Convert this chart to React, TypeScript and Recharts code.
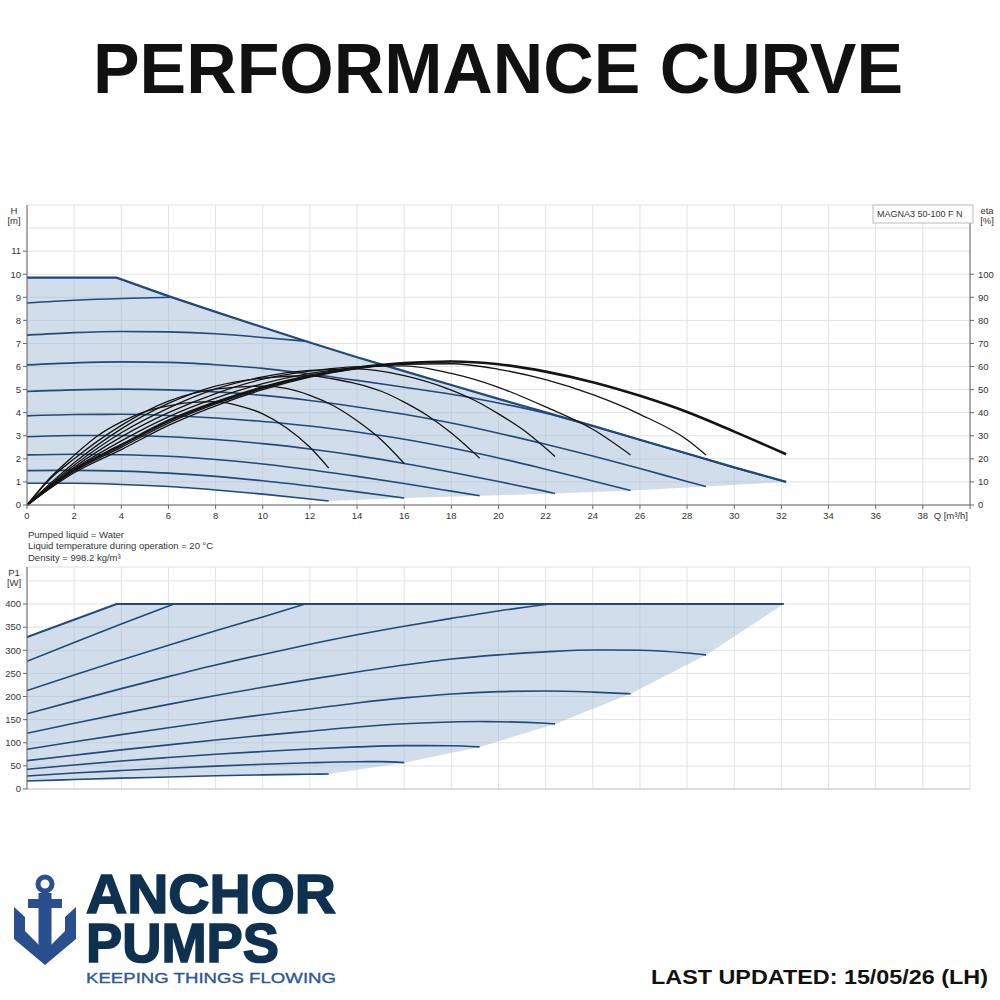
import React from "react";
import { ComposedChart, Line, Area, XAxis, YAxis, CartesianGrid } from "recharts";

type Pt = [number, number];

const FONT = "'Liberation Sans', Arial, Helvetica, sans-serif";
const BLUE = "#1f4a7c";
const SHADE = "#a3bcd6";
const INK = "#141414";
const GRID = "#e2e2e2";
const AXIS = "#666";

// axis ticks
const qTicks = [0, 2, 4, 6, 8, 10, 12, 14, 16, 18, 20, 22, 24, 26, 28, 30, 32, 34, 36, 38, 40];
const hTicks = [0, 1, 2, 3, 4, 5, 6, 7, 8, 9, 10, 11, 12, 13];
const etaTicks = [0, 10, 20, 30, 40, 50, 60, 70, 80, 90, 100];
const pTicks = [0, 50, 100, 150, 200, 250, 300, 350, 400, 450, 480];

// Q-H curves, H [m] against Q [m³/h]
const qhMax: Pt[] = [[0, 9.85], [3.8, 9.85], [6, 9.05], [8, 8.37], [10, 7.7], [12, 7.04], [14, 6.4], [16, 5.8], [18, 5.2], [20, 4.6], [22, 4.02], [24, 3.43], [26, 2.83], [28, 2.23], [30, 1.63], [32.2, 1.0]];
const qh9: Pt[] = [[0, 8.75], [2, 8.87], [4, 8.95], [6.15, 9.0]];
const qh8: Pt[] = [[0, 7.36], [2, 7.47], [4, 7.52], [6, 7.5], [8, 7.42], [10, 7.26], [11.8, 7.1]];
const qh7: Pt[] = [[0, 6.07], [2, 6.16], [4, 6.2], [6, 6.18], [8, 6.08], [10, 5.92], [12, 5.68], [14, 5.4], [16, 5.1], [18, 4.8], [20, 4.42], [22, 3.98], [24, 3.42], [26, 2.82], [28, 2.22], [30, 1.62], [32.2, 1.0]];
const qh6: Pt[] = [[0, 4.92], [2, 4.99], [4, 5.02], [6, 4.99], [8, 4.9], [10, 4.75], [12, 4.53], [14, 4.25], [16, 3.93], [18, 3.55], [20, 3.11], [22, 2.63], [24, 2.12], [26, 1.58], [28, 1.02], [28.8, 0.8]];
const qh5: Pt[] = [[0, 3.86], [2, 3.92], [4, 3.93], [6, 3.88], [8, 3.77], [10, 3.62], [12, 3.42], [14, 3.16], [16, 2.85], [18, 2.47], [20, 2.04], [22, 1.55], [24, 1.04], [25.6, 0.63]];
const qh4: Pt[] = [[0, 2.96], [2, 3.01], [4, 3.01], [6, 2.96], [8, 2.84], [10, 2.66], [12, 2.43], [14, 2.14], [16, 1.8], [18, 1.42], [20, 1.02], [22, 0.59], [22.4, 0.5]];
const qh3: Pt[] = [[0, 2.17], [2, 2.2], [4, 2.18], [6, 2.11], [8, 1.97], [10, 1.78], [12, 1.53], [14, 1.24], [16, 0.93], [18, 0.6], [19.2, 0.4]];
const qh2: Pt[] = [[0, 1.49], [2, 1.5], [4, 1.47], [6, 1.38], [8, 1.24], [10, 1.05], [12, 0.82], [14, 0.57], [16, 0.3]];
const qh1: Pt[] = [[0, 0.94], [2, 0.94], [4, 0.89], [6, 0.8], [8, 0.65], [10, 0.47], [12, 0.26], [12.8, 0.17]];

// operating area (shaded) of the Q-H diagram
const qhAreaQ = [0, 2, 3.8, 6, 8, 10, 12, 12.8, 16, 19.2, 22.4, 25.6, 28.8, 32.2];
const qhAreaTop = [9.85, 9.85, 9.85, 9.05, 8.37, 7.7, 7.04, 6.78, 5.8, 4.84, 3.9, 2.95, 1.99, 1.0];
const qhAreaLow = [0.94, 0.94, 0.9, 0.8, 0.65, 0.47, 0.26, 0.17, 0.3, 0.4, 0.5, 0.63, 0.8, 1.0];

// efficiency curves, eta [%]
const etaA: Pt[] = [[0, 0], [1, 12], [2, 21.5], [3, 30], [4, 36], [5, 40.5], [6, 43], [7, 44.5], [8, 44.8], [9, 43], [10, 39.5], [11, 33.5], [12, 25], [12.8, 16]];
const etaB: Pt[] = [[0, 0], [1, 11.5], [2, 20], [4, 34.5], [6, 45], [8, 50.2], [10, 51.5], [11, 50.5], [12, 47.5], [13, 43], [14, 36.5], [15, 28.5], [16, 18]];
const etaC: Pt[] = [[0, 0], [2, 18.3], [4, 33], [6, 44], [8, 51.5], [10, 55], [12, 56], [13, 54.6], [14, 52.5], [15, 49.4], [16, 44.6], [17, 38.7], [18, 31.2], [19.2, 20.3]];
const etaD: Pt[] = [[0, 0], [2, 17.2], [4, 31.3], [6, 42], [8, 50.3], [10, 55.5], [12, 58.3], [14, 59], [16, 56.1], [18, 49.8], [19, 45.3], [20, 39.5], [21, 32.9], [22.4, 21]];
const etaE: Pt[] = [[0, 0], [2, 16.3], [4, 29.5], [6, 40], [8, 48.3], [10, 54.5], [12, 58], [14, 60], [16, 60.3], [18, 57], [20, 51], [22, 42.5], [24, 32.8], [25.6, 21.7]];
const etaF: Pt[] = [[0, 0], [2, 15.6], [4, 27.8], [6, 38.2], [8, 46.3], [10, 52.6], [12, 57], [14, 59.6], [16, 61], [18, 61.2], [20, 58.8], [22, 54.3], [24, 47.8], [26, 39.3], [28, 28.3], [28.8, 21.7]];
const etaG: Pt[] = [[0, 0], [2, 15.2], [4, 26], [6, 36.5], [8, 44.5], [10, 51], [12, 56], [14, 59.5], [16, 61.5], [18, 62.2], [20, 61], [22, 57.8], [24, 53.2], [26, 47.3], [28, 40.3], [30, 31.8], [32.2, 22]];
const etaH: Pt[] = [[0, 0], [2, 14.6], [4, 25], [6, 35.5], [8, 43.8], [10, 50.5], [12, 55.7], [14, 59.3], [16, 61.4], [18, 62.2]];
const etaI: Pt[] = [[0, 0], [2, 14], [4, 24], [6, 34.5], [8, 43], [10, 50], [12, 55.4], [14, 59.1], [16, 61.3], [18, 62.2]];

// power curves, P1 [W]
const pTop: Pt[] = [[0, 328.5], [3.8, 400], [32.1, 400]];
const p9: Pt[] = [[0, 276], [2, 317], [4, 357], [6.23, 400]];
const p8: Pt[] = [[0, 213], [2, 246.5], [4, 279], [6, 311], [8, 342], [10, 372], [11.8, 400]];
const p7: Pt[] = [[0, 162.5], [2, 190], [4, 217], [6, 243], [8, 268], [10, 291], [12, 313], [14, 333.5], [16, 352], [18, 369], [20, 385], [22.2, 400]];
const p6: Pt[] = [[0, 120.6], [2, 142], [4, 163], [6, 183], [8, 202], [10, 220], [12, 237], [14, 253], [16, 268], [18, 281], [20, 290], [22, 296.5], [24, 300.5], [26, 300], [28, 294], [28.8, 290]];
const p5: Pt[] = [[0, 86], [2, 102], [4, 117.5], [6, 132.5], [8, 147], [10, 160.5], [12, 173], [14, 186], [16, 197], [18, 205.5], [20, 210.5], [22, 212], [24, 209.5], [25.6, 205.8]];
const p4: Pt[] = [[0, 61.4], [2, 73], [4, 84.5], [6, 95.5], [8, 106], [10, 116], [12, 125], [14, 134], [16, 141], [18, 145], [19.2, 145.8], [20, 145.5], [22, 142], [22.4, 140.8]];
const p3: Pt[] = [[0, 42.6], [2, 52], [4, 60.5], [6, 68], [8, 75], [10, 81], [12, 86.5], [14, 91], [16, 93.8], [18, 93.5], [19.2, 91]];
const p2: Pt[] = [[0, 28.2], [2, 34.5], [4, 40], [6, 45], [8, 49.5], [10, 53.5], [12, 56.8], [14, 59], [15, 59.2], [16, 57]];
const p1: Pt[] = [[0, 17.3], [2, 20.5], [4, 23.5], [6, 26], [8, 28.5], [10, 30.5], [12, 32], [12.8, 32.5]];

const pAreaQ = [0, 2, 3.8, 6, 8, 10, 12, 12.8, 16, 19.2, 22.4, 25.6, 28.8, 32.1];
const pAreaTop = [328.5, 366, 400, 400, 400, 400, 400, 400, 400, 400, 400, 400, 400, 400];
const pAreaLow = [17.3, 20.5, 23.1, 26, 28.5, 30.5, 32, 32.5, 57, 91, 140.8, 205.8, 290, 400];

const qhSpeeds = [qh9, qh8, qh7, qh6, qh5, qh4, qh3, qh2, qh1];
const etaThin = [etaA, etaB, etaC, etaD, etaE, etaF];
const etaThick = [etaI, etaH, etaG];
const pSpeeds = [p9, p8, p7, p6, p5, p4, p3, p2, p1];

const rows = (pts: Pt[]) => pts.map(([q, v]) => ({ q, v }));
const band = (qs: number[], lo: number[], hi: number[]) =>
  qs.map((q, i) => ({ q, band: [lo[i], hi[i]] }));

const label = { fontFamily: FONT, fontSize: 9.5, fill: "#333" };

function QTick(p: any) {
  const v = p.payload.value;
  if (v === 40)
    return (
      <text x={p.x - 2} y={p.y} dy={8} textAnchor="end" style={label}>
        Q [m³/h]
      </text>
    );
  return (
    <text x={p.x} y={p.y} dy={8} textAnchor="middle" style={label}>
      {v}
    </text>
  );
}

function leftTick(max: number) {
  return (p: any) => {
    const v = p.payload.value;
    if (v > max) return <g />;
    return (
      <g>
        <line x1={p.x + 2} x2={p.x + 6} y1={p.y} y2={p.y} stroke={AXIS} />
        <text x={p.x} y={p.y} dy={3.3} textAnchor="end" style={label}>
          {v}
        </text>
      </g>
    );
  };
}

function TopChart() {
  return (
    <div style={{ position: "absolute", left: 0, top: 190, width: 1000, height: 340 }}>
      <ComposedChart width={1000} height={340} margin={{ top: 15, right: 0, bottom: 0, left: 0 }}>
        <CartesianGrid yAxisId="h" stroke={GRID} />
        <XAxis
          dataKey="q"
          type="number"
          domain={[0, 40]}
          ticks={qTicks}
          interval={0}
          height={25}
          tickSize={4}
          tickMargin={2}
          stroke={AXIS}
          tick={QTick}
          allowDataOverflow
        />
        <YAxis
          yAxisId="h"
          type="number"
          domain={[0, 13]}
          ticks={hTicks}
          interval={0}
          width={27}
          tickSize={4}
          tickMargin={2}
          tickLine={false}
          axisLine={{ stroke: AXIS }}
          tick={leftTick(11)}
        />
        <YAxis
          yAxisId="eta"
          orientation="right"
          type="number"
          domain={[0, 130]}
          ticks={etaTicks}
          interval={0}
          width={30}
          tickSize={4}
          tickMargin={4}
          stroke={AXIS}
          tick={{ ...label, textAnchor: "start" }}
        />
        <Area
          yAxisId="h"
          data={band(qhAreaQ, qhAreaLow, qhAreaTop)}
          dataKey="band"
          type="linear"
          stroke="none"
          fill={SHADE}
          fillOpacity={0.5}
          isAnimationActive={false}
        />
        {qhSpeeds.map((c, i) => (
          <Line
            key={"qh" + i}
            yAxisId="h"
            data={rows(c)}
            dataKey="v"
            type="monotone"
            stroke={BLUE}
            strokeWidth={1.6}
            dot={false}
            activeDot={false}
            isAnimationActive={false}
          />
        ))}
        <Line
          yAxisId="h"
          data={rows(qhMax)}
          dataKey="v"
          type="linear"
          stroke={BLUE}
          strokeWidth={2.2}
          dot={false}
          activeDot={false}
          isAnimationActive={false}
        />
        {etaThin.map((c, i) => (
          <Line
            key={"eta" + i}
            yAxisId="eta"
            data={rows(c)}
            dataKey="v"
            type="monotone"
            stroke={INK}
            strokeWidth={1.3}
            dot={false}
            activeDot={false}
            isAnimationActive={false}
          />
        ))}
        {etaThick.map((c, i) => (
          <Line
            key={"etaT" + i}
            yAxisId="eta"
            data={rows(c)}
            dataKey="v"
            type="monotone"
            stroke={INK}
            strokeWidth={i === 2 ? 2.6 : 1.3}
            dot={false}
            activeDot={false}
            isAnimationActive={false}
          />
        ))}
      </ComposedChart>
    </div>
  );
}

function PowerChart() {
  return (
    <div style={{ position: "absolute", left: 0, top: 560, width: 1000, height: 240 }}>
      <ComposedChart width={1000} height={240} margin={{ top: 7, right: 30, bottom: 0, left: 0 }}>
        <CartesianGrid stroke={GRID} />
        <XAxis
          dataKey="q"
          type="number"
          domain={[0, 40]}
          ticks={qTicks}
          interval={0}
          height={11}
          tickLine={false}
          axisLine={{ stroke: "#c8c8c8" }}
          tick={() => <g />}
          allowDataOverflow
        />
        <YAxis
          type="number"
          domain={[0, 480]}
          ticks={pTicks}
          interval={0}
          width={27}
          tickSize={4}
          tickMargin={2}
          tickLine={false}
          axisLine={{ stroke: AXIS }}
          tick={leftTick(400)}
        />
        <Area
          data={band(pAreaQ, pAreaLow, pAreaTop)}
          dataKey="band"
          type="linear"
          stroke="none"
          fill={SHADE}
          fillOpacity={0.5}
          isAnimationActive={false}
        />
        {pSpeeds.map((c, i) => (
          <Line
            key={"p" + i}
            data={rows(c)}
            dataKey="v"
            type="monotone"
            stroke={BLUE}
            strokeWidth={1.6}
            dot={false}
            activeDot={false}
            isAnimationActive={false}
          />
        ))}
        <Line
          data={rows(pTop)}
          dataKey="v"
          type="linear"
          stroke={BLUE}
          strokeWidth={2.2}
          dot={false}
          activeDot={false}
          isAnimationActive={false}
        />
      </ComposedChart>
    </div>
  );
}

function Overlay() {
  const small = { fontFamily: FONT, fontSize: 9.5, fill: "#333" };
  const heavy = { fontFamily: FONT, fontSize: 43, fontWeight: 700, fill: "#0e3150", stroke: "#0e3150", strokeWidth: 1.3 };
  return (
    <svg
      width={1000}
      height={1000}
      style={{ position: "absolute", left: 0, top: 0, pointerEvents: "none" }}
    >
      <text x={93} y={93} textLength={810} lengthAdjust="spacingAndGlyphs"
        style={{ fontFamily: FONT, fontSize: 70, fontWeight: 700, fill: "#111" }}>
        PERFORMANCE CURVE
      </text>

      <text x={14} y={214} textAnchor="middle" style={small}>H</text>
      <text x={14} y={224} textAnchor="middle" style={small}>[m]</text>
      <text x={987} y={214} textAnchor="middle" style={small}>eta</text>
      <text x={987} y={224} textAnchor="middle" style={small}>[%]</text>

      <rect x={873} y={205} width={100} height={18} fill="#fff" stroke="#bbb" />
      <text x={877} y={217} style={{ ...small, fontSize: 9 }}>MAGNA3 50-100 F N</text>

      <text x={28} y={537.5} style={small}>Pumped liquid = Water</text>
      <text x={28} y={549} style={small}>Liquid temperature during operation = 20 °C</text>
      <text x={28} y={561} style={small}>Density = 998.2 kg/m³</text>

      <text x={14} y={576} textAnchor="middle" style={small}>P1</text>
      <text x={14} y={586} textAnchor="middle" style={small}>[W]</text>

      {/* logo */}
      <g fill="#2a4f8f">
        <circle cx={45} cy={884} r={7} fill="none" stroke="#2a4f8f" strokeWidth={5} />
        <rect x={28} y={899} width={34} height={9} />
        <rect x={38.5} y={893} width={13} height={60} />
        <polygon points="14,907 25,917 25,931 45,951 65,931 65,917 76,907 76,939 45,965 14,939" />
      </g>
      <g transform="translate(86 913) scale(1 1.31)">
        <text x={0} y={0} textLength={250} lengthAdjust="spacingAndGlyphs" style={heavy}>ANCHOR</text>
      </g>
      <g transform="translate(86 962) scale(1 1.31)">
        <text x={0} y={0} textLength={193} lengthAdjust="spacingAndGlyphs" style={heavy}>PUMPS</text>
      </g>
      <text
        x={86}
        y={983}
        textLength={250}
        lengthAdjust="spacingAndGlyphs"
        style={{ fontFamily: FONT, fontSize: 15.5, fill: "#2e5797", stroke: "#2e5797", strokeWidth: 0.35 }}
      >
        KEEPING THINGS FLOWING
      </text>

      <text x={651} y={984} textLength={337} lengthAdjust="spacingAndGlyphs"
        style={{ fontFamily: FONT, fontSize: 19.5, fontWeight: 700, fill: "#111" }}>
        LAST UPDATED: 15/05/26 (LH)
      </text>
    </svg>
  );
}

export default function App() {
  return (
    <div style={{ position: "relative", width: 1000, height: 1000, background: "#fff", overflow: "hidden" }}>
      <style>{"body{margin:0}"}</style>
      <TopChart />
      <PowerChart />
      <Overlay />
    </div>
  );
}
